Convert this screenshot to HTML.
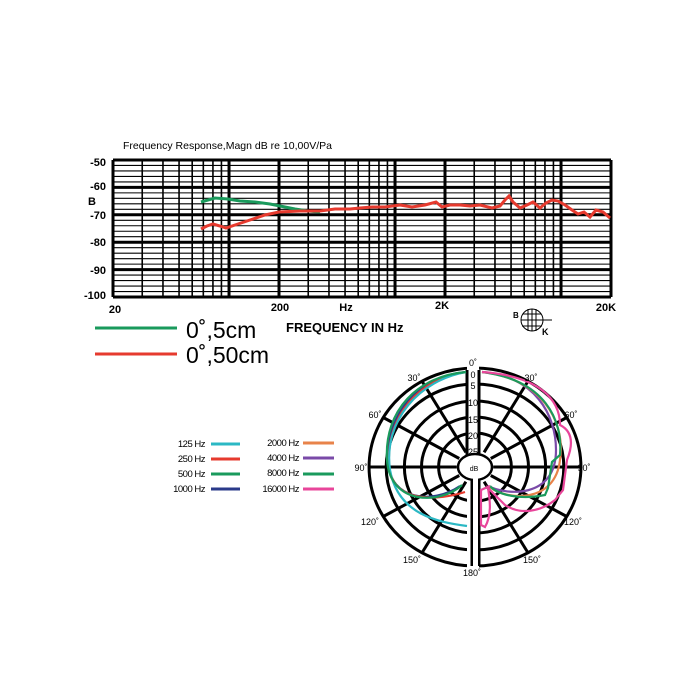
<!DOCTYPE html>
<html><head><meta charset="utf-8"><style>
html,body{margin:0;padding:0;background:#fff;}
svg{display:block;font-family:"Liberation Sans",sans-serif;}
</style></head><body>
<svg id="s" width="700" height="700" viewBox="0 0 700 700" xmlns="http://www.w3.org/2000/svg">
<rect width="700" height="700" fill="#fff"/>
<text x="123" y="149" font-size="10.5">Frequency Response,Magn dB re 10,00V/Pa</text>
<g id="grid"></g>
<g font-size="11" font-weight="bold" text-anchor="end">
<text x="106" y="166">-50</text><text x="106" y="190">-60</text><text x="96" y="205">B</text>
<text x="106" y="219">-70</text><text x="106" y="246">-80</text><text x="106" y="274">-90</text><text x="106" y="299">-100</text>
</g>
<g font-size="11" font-weight="bold" text-anchor="middle">
<text x="115" y="313">20</text><text x="280" y="311">200</text><text x="346" y="311">Hz</text><text x="442" y="309">2K</text><text x="606" y="311">20K</text>
</g>
<polyline fill="none" stroke="#1a9a5c" stroke-width="3" points="201,202 208,200 215,198 228,199 240,201 255,202 270,204 285,207 295,209 308,211 320,212"/>
<polyline fill="none" stroke="#e63a2e" stroke-width="3" points="201,229 207,226 213,224 220,226 226,228 238,224 250,220 265,215 279,212 300,211 320,211 335,209 350,209 360,208 372,207 385,207 400,205 412,207 425,205 436,202 442,207 450,205 460,205 470,206 480,205 492,208 500,206 505,200 509,196 513,202 520,208 527,205 533,202 540,208 546,203 552,200 558,201 565,205 572,210 578,214 584,212 590,217 596,210 603,212 610,218"/>
<line x1="95" y1="328" x2="177" y2="328" stroke="#1a9a5c" stroke-width="3"/>
<line x1="95" y1="354" x2="177" y2="354" stroke="#e63a2e" stroke-width="3"/>
<text x="186" y="338" font-size="23">0˚,5cm</text>
<text x="186" y="363" font-size="23">0˚,50cm</text>
<text x="286" y="332" font-size="13" font-weight="bold">FREQUENCY IN Hz</text>
<g stroke="#000" fill="none" stroke-width="1">
<circle cx="532" cy="320" r="11"/>
<line x1="521" y1="320" x2="552" y2="320"/>
<path d="M523,314 H541 M522,326 H542 M528,309 V331 M532,309 V331 M536,309 V331"/>
</g>
<text x="513" y="318" font-size="8" font-weight="bold">B</text>
<text x="542" y="335" font-size="9" font-weight="bold">K</text>
<g font-size="9.5" text-anchor="end" letter-spacing="-0.5">
<text x="205" y="447">125 Hz</text><text x="205" y="462">250 Hz</text><text x="205" y="477">500 Hz</text><text x="205" y="492">1000 Hz</text>
<text x="299" y="446">2000 Hz</text><text x="299" y="461">4000 Hz</text><text x="299" y="476">8000 Hz</text><text x="299" y="492">16000 Hz</text>
</g>
<g stroke-width="3">
<line x1="211" y1="444" x2="240" y2="444" stroke="#2bb8c4"/>
<line x1="211" y1="459" x2="240" y2="459" stroke="#e63a2e"/>
<line x1="211" y1="474" x2="240" y2="474" stroke="#1a9a5c"/>
<line x1="211" y1="489" x2="240" y2="489" stroke="#2a3a8a"/>
<line x1="303" y1="443" x2="334" y2="443" stroke="#e8834a"/>
<line x1="303" y1="458" x2="334" y2="458" stroke="#7a4aa8"/>
<line x1="303" y1="474" x2="334" y2="474" stroke="#1a9a5c"/>
<line x1="303" y1="489" x2="334" y2="489" stroke="#e8459a"/>
</g>
<g id="polar"></g>
<g stroke-width="2.2" fill="none">
<path d="M466,372 C420,376 386,412 388,462 C390,500 432,505 460,486" stroke="#2a3a8a"/>
<path d="M466,372 C420,378 386,415 389,466 C393,505 440,500 465,492" stroke="#e63a2e"/>
<path d="M466,372 C420,380 383,420 390,470 C398,515 438,522 467,526" stroke="#2bb8c4"/>
<path d="M466,372 C418,376 384,410 387,460 C390,505 440,505 462,485" stroke="#1a9a5c"/>
<path d="M482,372 C535,376 556,415 556,450 C556,500 505,495 488,486" stroke="#7a4aa8"/>
<path d="M482,372 C540,378 566,420 560,460 C555,505 505,500 490,487" stroke="#e8834a"/>
<path d="M482,372 C545,380 563,420 560,455 L552,462 L548,488 L545,495 C520,500 498,495 490,486" stroke="#1a9a5c"/>
<path d="M482,372 C540,376 560,400 560,425 C570,430 575,440 567,460 L563,490 L555,500 C540,512 520,515 505,505 L488,488 C490,500 492,515 485,527 L481,525 L481,490 L490,486" stroke="#e8459a"/>
</g>
<g font-size="9" text-anchor="middle">
<text x="473" y="366">0˚</text>
<text x="414" y="381">30˚</text><text x="531" y="381">30˚</text>
<text x="375" y="418">60˚</text><text x="571" y="418">60˚</text>
<text x="361" y="471">90˚</text><text x="584" y="471">90˚</text>
<text x="370" y="525">120˚</text><text x="573" y="525">120˚</text>
<text x="412" y="563">150˚</text><text x="532" y="563">150˚</text>
<text x="472" y="576">180˚</text>
<text x="473" y="378">0</text><text x="473" y="389">5</text><text x="473" y="406">10</text>
<text x="473" y="423">15</text><text x="473" y="439">20</text><text x="473" y="455">25</text>
<text x="474" y="471" font-size="7">dB</text>
</g>
</svg>
<script>
var NS="http://www.w3.org/2000/svg";
function el(p,t,a){var e=document.createElementNS(NS,t);for(var k in a)e.setAttribute(k,a[k]);p.appendChild(e);return e;}
var g=document.getElementById("grid");
var X0=113,X1=611,Y0=160,Y1=297;
function xf(f){return X0+166*Math.log10(f/20);}
function yd(d){return Y0+(-50-d)*(Y1-Y0)/50;}
for(var d=-50;d>=-100;d-=2){var th=(d%10==0);el(g,"line",{x1:X0,x2:X1,y1:yd(d),y2:yd(d),stroke:"#000","stroke-width":th?3:1.1});}
var fs=[];[10,100,1000,10000].forEach(function(m){for(var i=1;i<10;i++){var f=i*m;if(f>=20&&f<=20000)fs.push(f);}});
fs.forEach(function(f){var th=(f==20||f==200||f==2000||f==20000||f==100||f==1000||f==10000);el(g,"line",{x1:xf(f),x2:xf(f),y1:Y0,y2:Y1,stroke:"#000","stroke-width":th?3:1.6});});
var p=document.getElementById("polar");
var cx=475,cy=467,sx=1.07;
var rs=[99,83,66,50,34];
rs.forEach(function(r){el(p,"ellipse",{cx:cx,cy:cy,rx:r*sx,ry:r,fill:"none",stroke:"#000","stroke-width":3});});
[30,60,90,120,150].forEach(function(a){var t=a*Math.PI/180;[1,-1].forEach(function(s){
el(p,"line",{x1:cx+s*17*sx*Math.sin(t),y1:cy-17*Math.cos(t),x2:cx+s*99*sx*Math.sin(t),y2:cy-99*Math.cos(t),stroke:"#000","stroke-width":3});});});
el(p,"rect",{x:467,y:360,width:12,height:215,fill:"#fff"});
el(p,"line",{x1:467,y1:370,x2:467,y2:458,stroke:"#000","stroke-width":3});
el(p,"line",{x1:479,y1:370,x2:479,y2:458,stroke:"#000","stroke-width":3});
el(p,"line",{x1:472,y1:478,x2:472,y2:566,stroke:"#000","stroke-width":3});
el(p,"line",{x1:479,y1:478,x2:479,y2:566,stroke:"#000","stroke-width":3});
el(p,"ellipse",{cx:cx,cy:cy,rx:17,ry:13,fill:"#fff",stroke:"#000","stroke-width":2.5});
el(p,"rect",{x:473,y:478,width:5,height:90,fill:"#fff"});
</script>
</body></html>
